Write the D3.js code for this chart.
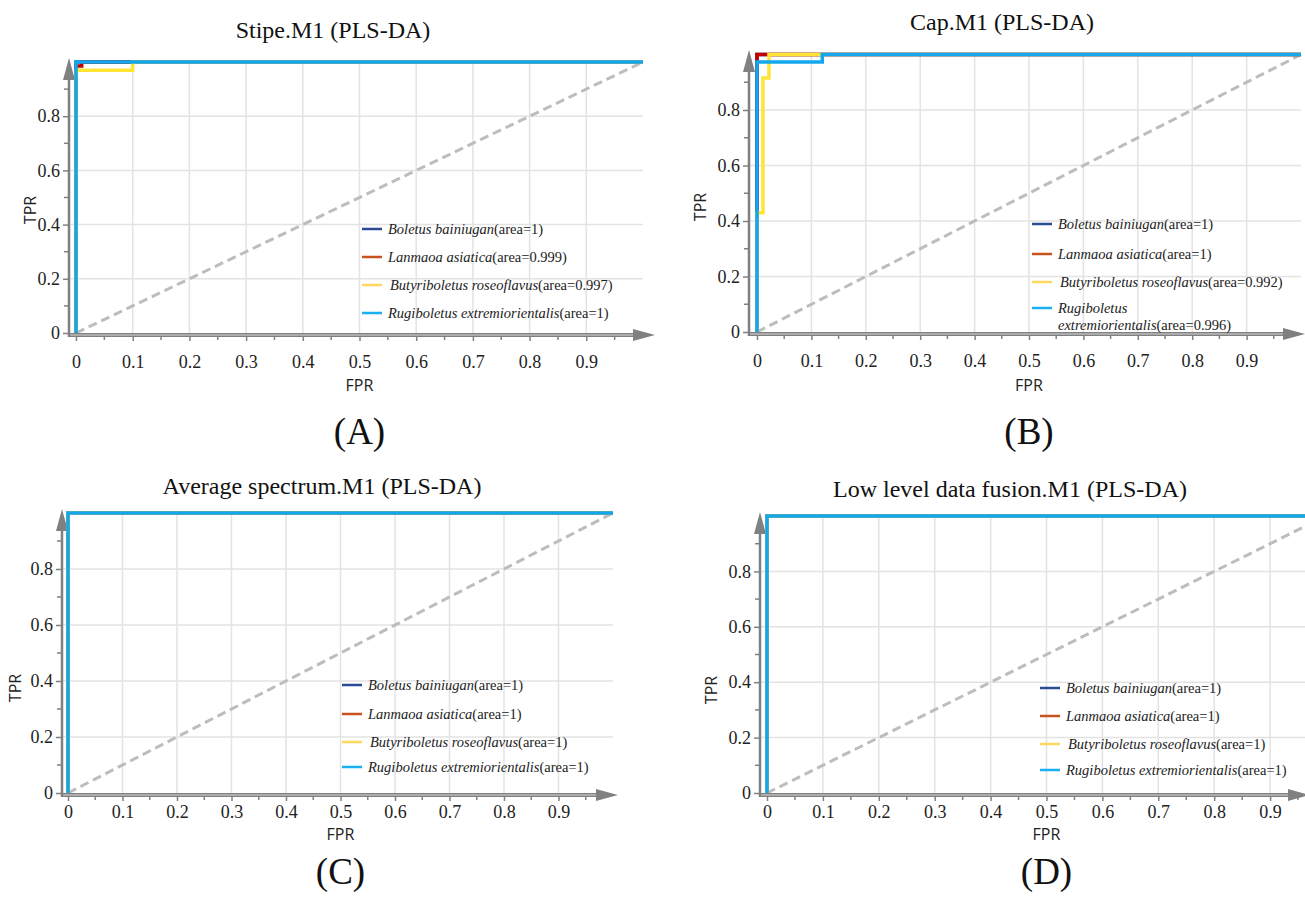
<!DOCTYPE html>
<html><head><meta charset="utf-8">
<script src="https://cdn.jsdelivr.net/npm/d3@7"></script>
<style>
html,body{margin:0;padding:0;background:#fff;}
svg{display:block;}
</style></head>
<body>
<svg id="chart" width="1305" height="902"></svg>
<script>
// ---------------- DATA ----------------
const seriesNames = ["Boletus bainiugan", "Lanmaoa asiatica", "Butyriboletus roseoflavus", "Rugiboletus extremiorientalis"];
const panelTitles = ["Stipe.M1 (PLS-DA)", "Cap.M1 (PLS-DA)", "Average spectrum.M1 (PLS-DA)", "Low level data fusion.M1 (PLS-DA)"];
const panelLetters = ["(A)", "(B)", "(C)", "(D)"];
const xTickValues = [0, 0.1, 0.2, 0.3, 0.4, 0.5, 0.6, 0.7, 0.8, 0.9];
const yTickValues = [0, 0.2, 0.4, 0.6, 0.8];

const areasA = ["1", "0.999", "0.997", "1"];
const areasB = ["1", "1", "0.992", "0.996"];
const areasC = ["1", "1", "1", "1"];
const areasD = ["1", "1", "1", "1"];

// ROC curves (FPR, TPR) per panel & series
const rocA_fpr = [[0, 0, 1], [0, 0, 0.01, 0.01, 1], [0, 0, 0.1, 0.1, 1], [0, 0, 1]];
const rocA_tpr = [[0, 1, 1], [0, 0.985, 0.985, 1, 1], [0, 0.97, 0.97, 1, 1], [0, 1, 1]];
const rocB_fpr = [[0, 0, 1], [0, 0, 1], [0, 0, 0.011, 0.011, 0.022, 0.022, 1], [0, 0, 0.12, 0.12, 1]];
const rocB_tpr = [[0, 1, 1], [0, 1, 1], [0, 0.43, 0.43, 0.915, 0.915, 1, 1], [0, 0.973, 0.973, 1, 1]];
const rocC_fpr = [[0, 0, 1], [0, 0, 1], [0, 0, 1], [0, 0, 1]];
const rocC_tpr = [[0, 1, 1], [0, 1, 1], [0, 1, 1], [0, 1, 1]];
const rocD_fpr = [[0, 0, 1], [0, 0, 1], [0, 0, 1], [0, 0, 1]];
const rocD_tpr = [[0, 1, 1], [0, 1, 1], [0, 1, 1], [0, 1, 1]];
const chanceLine = [0, 1];

// ---------------- STYLE / LAYOUT ----------------
const lineColors = ["#1f3d8a", "#c00000", "#ffe335", "#13a8ee"];
const legendColors = ["#2b4a94", "#c8521f", "#ffd75e", "#18b0f2"];
const serif = "'Liberation Serif', 'Times New Roman', serif";
const sans = "'Open Sans', 'Noto Sans', sans-serif";

const panels = [
  { x0: 76, x1: 643, y0: 333, y1: 62, axisX: 69, axisY: 335, arrowX: 655, arrowTop: 58, labOff: 33,
    titleX: 333, titleY: 38, tprX: 36, tprY: 210, fprY: 391, letterY: 444,
    legX: 362, legRows: [229, 257, 285, 313], areas: areasA, fpr: rocA_fpr, tpr: rocA_tpr, wrapLast: false },
  { x0: 757, x1: 1301, y0: 332, y1: 54.5, axisX: 749, axisY: 334, arrowX: 1305, arrowTop: 50, labOff: 33,
    titleX: 1002, titleY: 30, tprX: 706, tprY: 207, fprY: 391, letterY: 444,
    legX: 1032, legRows: [224, 254, 282, 308], areas: areasB, fpr: rocB_fpr, tpr: rocB_tpr, wrapLast: true },
  { x0: 68, x1: 613, y0: 793, y1: 513, axisX: 62, axisY: 795, arrowX: 618, arrowTop: 509, labOff: 23,
    titleX: 322, titleY: 494, tprX: 21, tprY: 688, fprY: 840, letterY: 884,
    legX: 342, legRows: [685, 714, 742, 767], areas: areasC, fpr: rocC_fpr, tpr: rocC_tpr, wrapLast: false },
  { x0: 767, x1: 1326, y0: 793, y1: 516, axisX: 760, axisY: 795, arrowX: 1310, arrowTop: 512, labOff: 23,
    titleX: 1010, titleY: 497, tprX: 717, tprY: 690, fprY: 840, letterY: 884,
    legX: 1040, legRows: [688, 716, 744, 770], areas: areasD, fpr: rocD_fpr, tpr: rocD_tpr, wrapLast: false }
];

const svg = d3.select("#chart");
const axisGrey = "#808080";

panels.forEach((p, pi) => {
  const g = svg.append("g");
  const x = d3.scaleLinear().domain([0, 1]).range([p.x0, p.x1]);
  const y = d3.scaleLinear().domain([0, 1]).range([p.y0, p.y1]);

  // grid
  const gridX = xTickValues.filter(v => v > 0);
  g.selectAll(".gx").data(gridX).join("line")
    .attr("x1", d => x(d)).attr("x2", d => x(d))
    .attr("y1", y(1)).attr("y2", p.axisY)
    .attr("stroke", "#e3e3e3").attr("stroke-width", 1.5);
  g.selectAll(".gy").data(yTickValues.filter(v => v > 0)).join("line")
    .attr("x1", p.axisX).attr("x2", Math.min(x(1), 1305))
    .attr("y1", d => y(d)).attr("y2", d => y(d))
    .attr("stroke", "#e3e3e3").attr("stroke-width", 1.5);

  // title
  g.append("text").attr("x", p.titleX).attr("y", p.titleY)
    .attr("text-anchor", "middle").attr("font-family", serif).attr("font-size", 24)
    .attr("fill", "#111").text(panelTitles[pi]);

  // chance diagonal
  g.append("line")
    .attr("x1", x(chanceLine[0])).attr("y1", y(chanceLine[0]))
    .attr("x2", x(chanceLine[1])).attr("y2", y(chanceLine[1]))
    .attr("stroke", "#bdbdbd").attr("stroke-width", 3).attr("stroke-dasharray", "9,5");

  // x axis (double line) with ticks
  const xAxis = d3.axisBottom(x).tickValues(xTickValues).tickSize(6).tickSizeOuter(0)
    .tickFormat(d => d === 0 ? "0" : d3.format(".1f")(d));
  const xg = g.append("g").attr("transform", `translate(0,${p.axisY})`).call(xAxis);
  xg.select(".domain").remove();
  xg.selectAll(".tick line").attr("stroke", axisGrey).attr("stroke-width", 1.5);
  xg.selectAll(".tick text").attr("font-family", serif).attr("font-size", 18)
    .attr("fill", "#222").attr("y", p.labOff).attr("dy", 0);
  const minorX = xTickValues.map(v => v + 0.05);
  g.selectAll(".mx").data(minorX).join("line")
    .attr("x1", d => x(d)).attr("x2", d => x(d))
    .attr("y1", p.axisY).attr("y2", p.axisY + 5)
    .attr("stroke", axisGrey).attr("stroke-width", 1.5);

  g.append("line").attr("x1", p.axisX).attr("x2", p.arrowX - 14)
    .attr("y1", p.axisY).attr("y2", p.axisY)
    .attr("stroke", axisGrey).attr("stroke-width", 4);
  g.append("line").attr("x1", p.axisX).attr("x2", p.arrowX - 14)
    .attr("y1", p.axisY).attr("y2", p.axisY)
    .attr("stroke", "#d8d8d8").attr("stroke-width", 1);
  g.append("path")
    .attr("d", `M${p.arrowX},${p.axisY} L${p.arrowX - 22},${p.axisY - 6} L${p.arrowX - 22},${p.axisY + 6} Z`)
    .attr("fill", axisGrey);

  // y axis with ticks
  const yAxis = d3.axisLeft(y).tickValues(yTickValues).tickSize(6).tickSizeOuter(0)
    .tickFormat(d => d === 0 ? "0" : d3.format(".1f")(d));
  const yg = g.append("g").attr("transform", `translate(${p.axisX},0)`).call(yAxis);
  yg.select(".domain").remove();
  yg.selectAll(".tick line").attr("stroke", axisGrey).attr("stroke-width", 1.5);
  yg.selectAll(".tick text").attr("font-family", serif).attr("font-size", 18).attr("fill", "#222");
  const minorY = [0.1, 0.3, 0.5, 0.7, 0.9];
  g.selectAll(".my").data(minorY).join("line")
    .attr("x1", p.axisX - 5).attr("x2", p.axisX)
    .attr("y1", d => y(d)).attr("y2", d => y(d))
    .attr("stroke", axisGrey).attr("stroke-width", 1.5);
  g.append("line").attr("x1", p.axisX).attr("x2", p.axisX)
    .attr("y1", p.axisY + 2).attr("y2", p.arrowTop + 18)
    .attr("stroke", axisGrey).attr("stroke-width", 2.5);
  g.append("path")
    .attr("d", `M${p.axisX},${p.arrowTop} L${p.axisX - 6},${p.arrowTop + 22} L${p.axisX + 6},${p.arrowTop + 22} Z`)
    .attr("fill", axisGrey);

  // axis titles
  g.append("text").attr("transform", `translate(${p.tprX},${p.tprY}) rotate(-90)`)
    .attr("text-anchor", "middle").attr("font-family", sans).attr("font-size", 16)
    .attr("fill", "#222").text("TPR");
  g.append("text").attr("x", x(0.5)).attr("y", p.fprY)
    .attr("text-anchor", "middle").attr("font-family", sans).attr("font-size", 16)
    .attr("fill", "#222").text("FPR");

  // ROC curves
  const line = d3.line().x(d => x(d[0])).y(d => y(d[1]));
  seriesNames.forEach((s, si) => {
    const pts = p.fpr[si].map((f, k) => [f, p.tpr[si][k]]);
    g.append("path").datum(pts).attr("d", line)
      .attr("fill", "none").attr("stroke", lineColors[si]).attr("stroke-width", 3.5)
      .attr("stroke-linejoin", "miter");
  });

  // legend
  seriesNames.forEach((s, si) => {
    const ly = p.legRows[si];
    g.append("line").attr("x1", p.legX).attr("x2", p.legX + 20)
      .attr("y1", ly).attr("y2", ly).attr("stroke", legendColors[si]).attr("stroke-width", 2.5);
    const tx = p.legX + 26 + (si === 2 ? 2 : 0);
    if (p.wrapLast && si === 3) {
      const parts = s.split(" ");
      g.append("text").attr("x", tx).attr("y", ly + 5).attr("font-family", serif)
        .attr("font-size", 14.5).attr("font-style", "italic").attr("fill", "#222").text(parts[0]);
      const t2 = g.append("text").attr("x", tx).attr("y", ly + 22).attr("font-family", serif)
        .attr("font-size", 14.5).attr("fill", "#222");
      t2.append("tspan").attr("font-style", "italic").text(parts[1]);
      t2.append("tspan").text(`(area=${p.areas[si]})`);
    } else {
      const t = g.append("text").attr("x", tx).attr("y", ly + 5).attr("font-family", serif)
        .attr("font-size", 14.5).attr("fill", "#222");
      t.append("tspan").attr("font-style", "italic").text(s);
      t.append("tspan").text(`(area=${p.areas[si]})`);
    }
  });

  // panel letter
  g.append("text").attr("x", x(0.5)).attr("y", p.letterY)
    .attr("text-anchor", "middle").attr("font-family", serif).attr("font-size", 37)
    .attr("fill", "#111").text(panelLetters[pi]);
});
</script>
</body></html>
